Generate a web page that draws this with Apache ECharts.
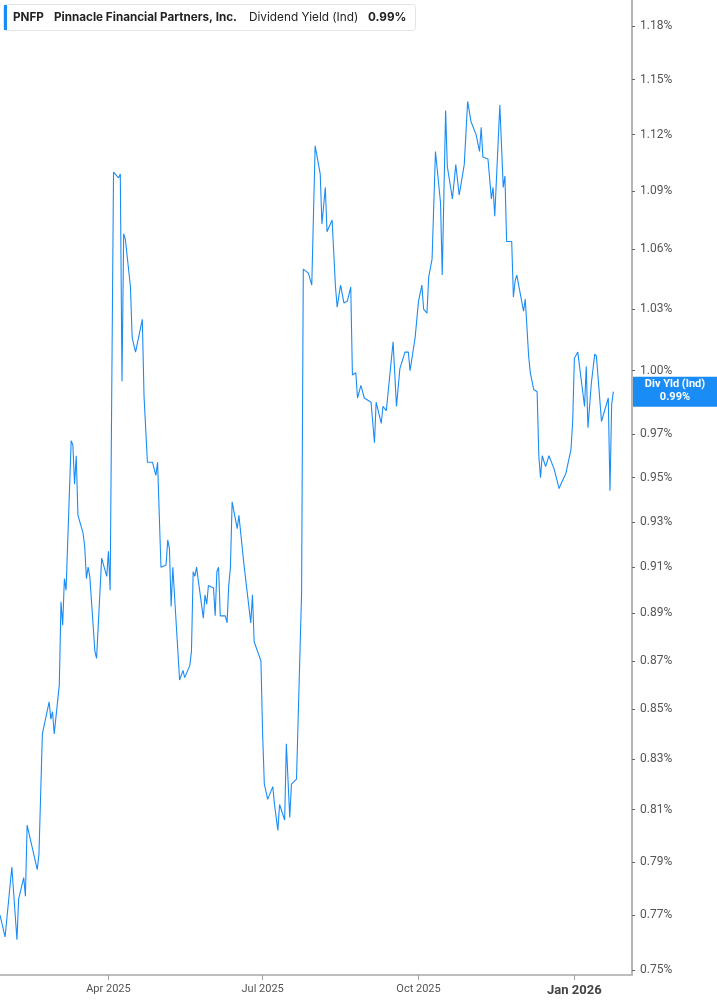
<!DOCTYPE html>
<html>
<head>
<meta charset="utf-8">
<script src="https://cdn.jsdelivr.net/npm/echarts@6/dist/echarts.min.js"></script>
<style>
html,body{margin:0;padding:0;background:#fff;}
#chart{width:717px;height:1005px;}
</style>
</head>
<body>
<div id="chart"></div>
<script>
// PNFP dividend yield (ind)
var dates = [
	'2025-01-27','2025-01-30','2025-02-03','2025-02-06','2025-02-07','2025-02-10','2025-02-11','2025-02-12',
	'2025-02-18','2025-02-19','2025-02-21','2025-02-25','2025-02-26','2025-02-27','2025-02-28',
	'2025-03-03','2025-03-04','2025-03-05','2025-03-06','2025-03-07','2025-03-10','2025-03-11','2025-03-12',
	'2025-03-13','2025-03-14','2025-03-17','2025-03-18','2025-03-19','2025-03-20','2025-03-21','2025-03-24',
	'2025-03-25','2025-03-28','2025-03-31','2025-04-01','2025-04-02','2025-04-04','2025-04-07','2025-04-08',
	'2025-04-09','2025-04-10','2025-04-11','2025-04-14','2025-04-15','2025-04-17','2025-04-21','2025-04-22',
	'2025-04-24','2025-04-27','2025-04-29','2025-04-30','2025-05-02','2025-05-05','2025-05-06',
	'2025-05-07','2025-05-08','2025-05-09','2025-05-13','2025-05-14','2025-05-15','2025-05-16','2025-05-19',
	'2025-05-20','2025-05-21','2025-05-22','2025-05-23','2025-05-27','2025-05-28','2025-05-29','2025-05-30',
	'2025-06-02','2025-06-03','2025-06-04','2025-06-05','2025-06-06','2025-06-09','2025-06-10','2025-06-11',
	'2025-06-12','2025-06-13','2025-06-16','2025-06-17','2025-06-20','2025-06-24','2025-06-25','2025-06-26',
	'2025-06-30','2025-07-01','2025-07-02','2025-07-04','2025-07-07','2025-07-08','2025-07-10','2025-07-11',
	'2025-07-14','2025-07-15','2025-07-17','2025-07-18','2025-07-21','2025-07-24','2025-07-25','2025-07-28',
	'2025-07-30','2025-08-01','2025-08-04','2025-08-05','2025-08-06','2025-08-07','2025-08-08','2025-08-11',
	'2025-08-13','2025-08-14','2025-08-16','2025-08-18','2025-08-20','2025-08-22','2025-08-23','2025-08-25',
	'2025-08-26','2025-08-28','2025-08-30','2025-09-03','2025-09-05','2025-09-06','2025-09-09','2025-09-10',
	'2025-09-12','2025-09-16','2025-09-18','2025-09-20','2025-09-23','2025-09-25','2025-09-26','2025-09-29',
	'2025-10-01','2025-10-03','2025-10-04','2025-10-06','2025-10-07','2025-10-09','2025-10-11','2025-10-14',
	'2025-10-15','2025-10-17','2025-10-18','2025-10-21','2025-10-23','2025-10-25','2025-10-28','2025-10-30',
	'2025-11-01','2025-11-04','2025-11-05','2025-11-06','2025-11-07','2025-11-08','2025-11-11','2025-11-13',
	'2025-11-14','2025-11-15','2025-11-18','2025-11-20','2025-11-21','2025-11-22','2025-11-25','2025-11-26',
	'2025-11-27','2025-11-28','2025-12-02','2025-12-03','2025-12-05','2025-12-06','2025-12-08','2025-12-10',
	'2025-12-11','2025-12-12','2025-12-13','2025-12-15','2025-12-17','2025-12-18','2025-12-19','2025-12-20',
	'2025-12-23','2025-12-24','2025-12-25','2025-12-27','2025-12-30','2025-12-31','2026-01-01','2026-01-03',
	'2026-01-07','2026-01-08','2026-01-09','2026-01-11','2026-01-13','2026-01-14','2026-01-17','2026-01-21',
	'2026-01-22','2026-01-23','2026-01-24'
];
var yields = [
	0.770,0.762,0.788,0.761,0.776,0.784,0.777,0.804,
	0.787,0.793,0.840,0.853,0.846,0.849,0.840,
	0.860,0.895,0.885,0.905,0.900,0.967,0.965,0.947,
	0.960,0.933,0.925,0.919,0.905,0.910,0.906,0.874,
	0.871,0.914,0.906,0.917,0.900,1.100,1.097,1.099,
	0.995,1.068,1.065,1.041,1.016,1.009,1.025,0.988,
	0.957,0.957,0.951,0.957,0.910,0.911,0.922,
	0.918,0.893,0.910,0.862,0.864,0.866,0.863,0.868,
	0.874,0.908,0.906,0.910,0.888,0.898,0.894,0.902,
	0.901,0.889,0.908,0.910,0.889,0.889,0.886,0.902,
	0.910,0.939,0.927,0.933,0.911,0.886,0.898,0.878,
	0.870,0.840,0.820,0.814,0.819,0.812,0.802,0.812,
	0.806,0.836,0.807,0.820,0.822,0.899,1.050,1.048,
	1.042,1.114,1.099,1.073,1.072,1.092,1.069,1.075,
	1.041,1.031,1.042,1.033,1.034,1.041,0.998,0.999,
	0.987,0.993,0.987,0.985,0.966,0.985,0.975,0.983,
	0.981,1.014,0.983,1.001,1.009,1.009,1.000,1.016,
	1.034,1.042,1.030,1.028,1.046,1.055,1.111,1.084,
	1.047,1.133,1.103,1.086,1.104,1.088,1.104,1.138,
	1.127,1.120,1.119,1.111,1.124,1.108,1.107,1.086,
	1.092,1.077,1.136,1.092,1.098,1.064,1.064,1.036,
	1.044,1.047,1.029,1.035,1.007,0.999,0.991,0.990,
	0.960,0.950,0.960,0.955,0.960,0.958,0.958,0.954,
	0.945,0.947,0.947,0.952,0.963,0.976,1.006,1.009,
	0.983,1.002,0.973,0.994,1.008,1.007,0.976,0.987,
	0.944,0.984,0.990
];
var yTicks = [0.75,0.77,0.79,0.81,0.83,0.85,0.87,0.89,0.91,0.93,0.95,0.97,1.00,1.03,1.06,1.09,1.12,1.15,1.18];
var xTicks = ['2025-04-01','2025-07-01','2025-10-01','2026-01-01'];
var monthNames = ['Jan','Feb','Mar','Apr','May','Jun','Jul','Aug','Sep','Oct','Nov','Dec'];

var lineColor = '#1a8cf5';
var font = 'Roboto, "Noto Sans", sans-serif';
var headFont = 'Inter, Roboto, sans-serif';

function toTime(s) {
	var p = s.split('-');
	return Date.UTC(+p[0], +p[1] - 1, +p[2]);
}

var myChart = echarts.init(document.getElementById('chart'));

var xTickTimes = xTicks.map(toTime);
// log scale: plot ln(yield) on a value axis, labels mapped back
var seriesData = dates.map(function(d, i){ return [toTime(d), Math.log(yields[i])]; });

var option = {
	backgroundColor: '#fff',
	animation: false,
	grid: {left: 0, right: 85, top: 0, bottom: 30},
	xAxis: {
		type: 'value',
		min: toTime('2025-01-27'),
		max: toTime('2026-02-04'),
		axisLine: {show: true, onZero: false, lineStyle: {color: '#bdbdbd', width: 2}},
		axisTick: {show: true, customValues: xTickTimes, length: 5, lineStyle: {color: '#9e9e9e'}},
		splitLine: {show: false},
		axisLabel: {
			customValues: xTickTimes,
			margin: 9,
			fontFamily: font,
			fontSize: 11,
			color: '#555',
			formatter: function(v){
				var dt = new Date(v);
				var txt = monthNames[dt.getUTCMonth()] + ' ' + dt.getUTCFullYear();
				return dt.getUTCMonth() === 0 ? '{b|' + txt + '}' : txt;
			},
			rich: {b: {fontFamily: font, fontSize: 13, fontWeight: 'bold', color: '#444'}}
		}
	},
	yAxis: {
		type: 'value',
		position: 'right',
		min: Math.log(0.7482),
		max: Math.log(1.1948),
		axisLine: {show: true, onZero: false, lineStyle: {color: '#9e9e9e', width: 1.5}},
		axisTick: {show: true, customValues: yTicks.map(Math.log), length: 3, lineStyle: {color: '#666'}},
		splitLine: {show: false},
		axisLabel: {
			customValues: yTicks.map(Math.log),
			margin: 8,
			fontFamily: font,
			fontSize: 12,
			color: '#555',
			formatter: function(v){ return Math.exp(v).toFixed(2) + '%'; }
		}
	},
	series: [{
		type: 'line',
		data: seriesData,
		showSymbol: false,
		lineStyle: {color: lineColor, width: 1.1},
		itemStyle: {color: lineColor}
	}]
};
myChart.setOption(option);

// header box and last value tag
var last = yields[yields.length - 1];
var lastY = myChart.convertToPixel({yAxisIndex: 0}, Math.log(last));
myChart.setOption({
	graphic: [
		{type: 'rect', shape: {x: 3.5, y: 4.5, width: 412, height: 26, r: 3},
			style: {fill: '#fff', stroke: '#e3e3e3', lineWidth: 1}},
		{type: 'rect', shape: {x: 4, y: 5, width: 3, height: 25}, style: {fill: lineColor}},
		{type: 'text', x: 13, y: 17.5, style: {text: 'PNFP', font: 'bold 11.7px ' + headFont, fill: '#222', verticalAlign: 'middle'}},
		{type: 'text', x: 54, y: 17.5, style: {text: 'Pinnacle Financial Partners, Inc.', font: 'bold 11.7px ' + headFont, fill: '#222', verticalAlign: 'middle'}},
		{type: 'text', x: 249, y: 17.5, style: {text: 'Dividend Yield (Ind)', font: '11.8px ' + headFont, fill: '#222', verticalAlign: 'middle'}},
		{type: 'text', x: 368, y: 17.5, style: {text: last.toFixed(2) + '%', font: 'bold 11.7px ' + headFont, fill: '#222', verticalAlign: 'middle'}},
		{type: 'rect', shape: {x: 633, y: lastY - 15, width: 84, height: 30}, style: {fill: lineColor}},
		{type: 'text', x: 675, y: lastY - 7, style: {text: 'Div Yld (Ind)', font: 'bold 11px ' + font, fill: '#fff', align: 'center', verticalAlign: 'middle'}},
		{type: 'text', x: 675, y: lastY + 6, style: {text: last.toFixed(2) + '%', font: 'bold 11px ' + font, fill: '#fff', align: 'center', verticalAlign: 'middle'}}
	]
});
</script>
</body>
</html>
